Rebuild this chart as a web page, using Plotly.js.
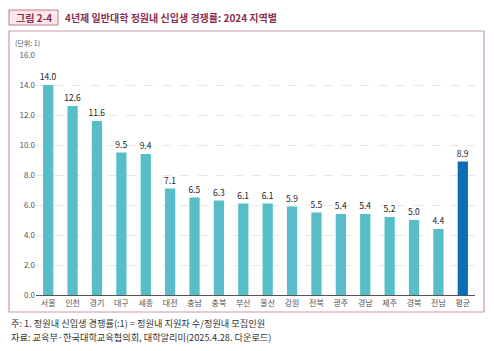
<!DOCTYPE html>
<html><head><meta charset="utf-8">
<script src="https://cdn.plot.ly/plotly-3.0.1.min.js"></script>
<style>html,body{margin:0;padding:0;background:#fff}#c{width:494px;height:351px}</style>
</head><body><div id="c"></div>
<script>
const regions = ["서울","인천","경기","대구","세종","대전","충남","충북","부산","울산","강원","전북","광주","경남","제주","경북","전남","평균"];
const values = [14.0,12.6,11.6,9.5,9.4,7.1,6.5,6.3,6.1,6.1,5.9,5.5,5.4,5.4,5.2,5.0,4.4,8.9];
const yTicks = [0,2,4,6,8,10,12,14,16];
const titleTag = "그림 2-4";
const titleText = "4년제 일반대학 정원내 신입생 경쟁률: 2024 지역별";
const unitText = "(단위: 1)";
const note1 = "주: 1. 정원내 신입생 경쟁률(:1) = 정원내 지원자 수/정원내 모집인원";
const note2 = "자료: 교육부·한국대학교육협의회, 대학알리미(2025.4.28. 다운로드)";

const W=494,H=351, L=36, R=19, T=55, B=56;
const pw=W-L-R, ph=H-T-B;
const px=x=>(x-L)/pw, py=y=>(H-B-y)/ph;
const colors = regions.map(r=> r==="평균" ? "#0a6db5" : "#57bec8");
const font="Noto Sans CJK KR, Noto Sans, sans-serif";

const trace={type:'bar',x:regions,y:values,marker:{color:colors},
  text:values.map(v=>v.toFixed(1)),textposition:'outside',cliponaxis:false,constraintext:'none',
  textfont:{size:8.5,color:'#222',family:font},hoverinfo:'none'};
const layout={width:W,height:H,margin:{l:L,r:R,t:T,b:B},paper_bgcolor:'#fff',plot_bgcolor:'#fff',
  showlegend:false,bargap:0.58,font:{family:font},
  xaxis:{type:'category',tickfont:{size:8,color:'#555',family:font},showline:true,linecolor:'#555',linewidth:1,ticks:'',showgrid:false,fixedrange:true},
  yaxis:{range:[0,16],tickvals:yTicks,ticktext:yTicks.map(v=>v.toFixed(1)),tickfont:{size:8,color:'#555',family:font},
    showgrid:true,gridcolor:'#dcdcdc',griddash:'dash',gridwidth:0.7,zeroline:false,ticks:'',ticklen:0,fixedrange:true},
  shapes:[
    {type:'rect',xref:'paper',yref:'paper',x0:px(9),x1:px(484),y0:py(312),y1:py(31),line:{color:'#c79aa7',width:1.2},fillcolor:'rgba(0,0,0,0)',layer:'below'},
    {type:'rect',xref:'paper',yref:'paper',x0:px(9),x1:px(58),y0:py(25),y1:py(10),line:{color:'#c0788c',width:1},fillcolor:'#fbe8ea'}
  ],
  annotations:[
    {xref:'paper',yref:'paper',x:px(33.5),y:py(17.5),text:"<b>"+titleTag+"</b>",showarrow:false,xanchor:'center',yanchor:'middle',font:{size:10,color:'#8a2f50',family:font}},
    {xref:'paper',yref:'paper',x:px(63),y:py(17.5),text:"<b>"+titleText+"</b>",showarrow:false,xanchor:'left',yanchor:'middle',font:{size:10,color:'#8a2f50',family:font}},
    {xref:'paper',yref:'paper',x:px(13),y:py(43),text:unitText,showarrow:false,xanchor:'left',yanchor:'middle',font:{size:7,color:'#555',family:font}},
    {xref:'paper',yref:'paper',x:px(9),y:py(323),text:note1,showarrow:false,xanchor:'left',yanchor:'middle',font:{size:9.2,color:'#333',family:font}},
    {xref:'paper',yref:'paper',x:px(9),y:py(337),text:note2,showarrow:false,xanchor:'left',yanchor:'middle',font:{size:9.2,color:'#333',family:font}}
  ]};
Plotly.newPlot('c',[trace],layout,{displayModeBar:false,staticPlot:true});
</script></body></html>
